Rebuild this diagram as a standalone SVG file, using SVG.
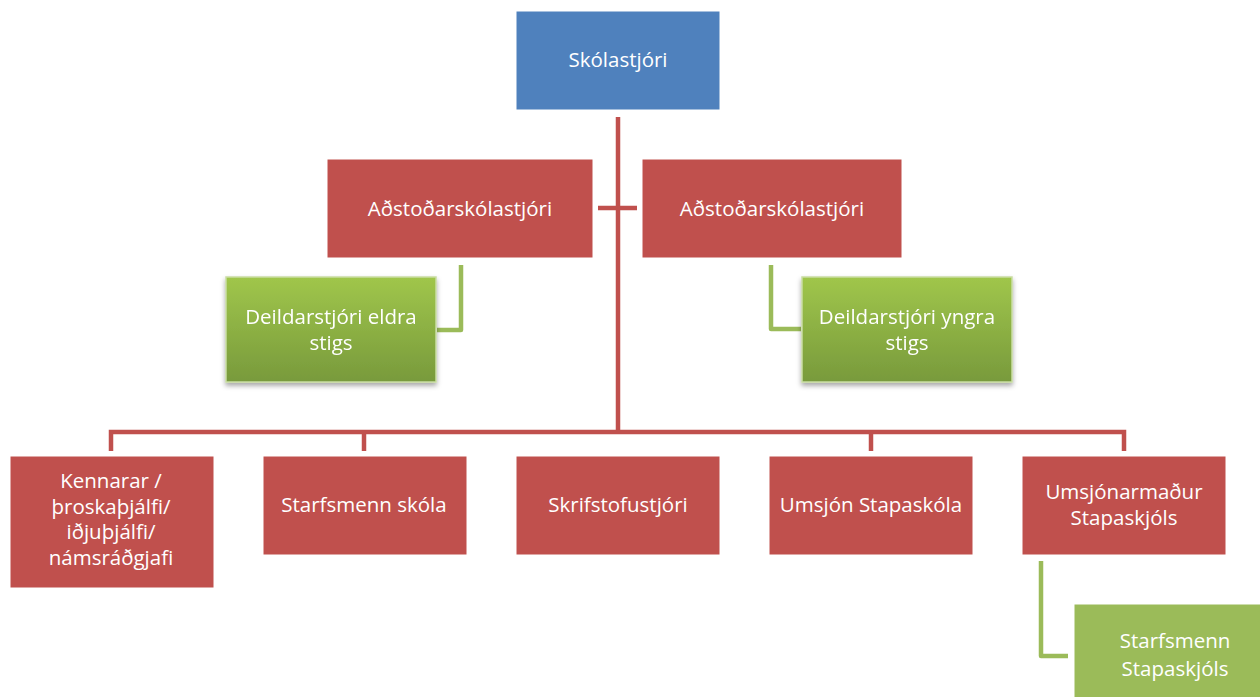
<svg xmlns="http://www.w3.org/2000/svg" width="1260" height="697" viewBox="0 0 1260 697">
<defs>
<linearGradient id="gg" x1="0" y1="0" x2="0" y2="1">
<stop offset="0" stop-color="#A0C64B"/>
<stop offset="1" stop-color="#789A3C"/>
</linearGradient>
<filter id="sh" x="-10%" y="-10%" width="130%" height="130%">
<feDropShadow dx="0" dy="3" stdDeviation="2.5" flood-color="#000" flood-opacity="0.35"/>
</filter>
<style>
.blue{fill:#4F81BD;stroke:#fff;stroke-width:1}
.red{fill:#C0504D;stroke:#fff;stroke-width:1}
.grn{fill:url(#gg);stroke:#C9DDA3;stroke-width:1.5}
.flat{fill:#9BBB59}
.t{font-family:"Open Sans","Noto Sans",sans-serif;font-size:20.5px;fill:#fff;text-anchor:middle}
.rl{stroke:#C0504D;stroke-width:4.5;fill:none}
.gl{stroke:#9BBB59;stroke-width:4.5;fill:none;stroke-linejoin:round}
</style>
</defs>
<g id="connectors">
<line class="rl" x1="618" y1="117" x2="618" y2="434"/>
<line class="rl" x1="598" y1="208" x2="637" y2="208"/>
<path class="rl" d="M111 451 V432 H1124 V451"/>
<line class="rl" x1="364" y1="432" x2="364" y2="451"/>
<line class="rl" x1="871" y1="432" x2="871" y2="451"/>
<path class="gl" d="M461 265 V330 H437"/>
<path class="gl" d="M771 265 V329 H801"/>
<path class="gl" d="M1041 561 V656 H1068"/>
</g>
<g id="n-skolastjori">
<rect class="blue" x="516" y="11" width="204" height="99"/>
<text class="t" x="618" y="67">Skólastjóri</text>
</g>
<g id="n-adst1">
<rect class="red" x="327" y="159" width="266" height="99"/>
<text class="t" x="460" y="216">Aðstoðarskólastjóri</text>
</g>
<g id="n-adst2">
<rect class="red" x="642" y="159" width="260" height="99"/>
<text class="t" x="772" y="216">Aðstoðarskólastjóri</text>
</g>
<g id="n-deild-eldra" filter="url(#sh)">
<rect class="grn" x="226" y="277" width="210" height="105"/>
<text class="t" x="331" y="324">Deildarstjóri eldra</text>
<text class="t" x="331" y="350">stigs</text>
</g>
<g id="n-deild-yngra" filter="url(#sh)">
<rect class="grn" x="802" y="277" width="210" height="105"/>
<text class="t" x="907" y="324">Deildarstjóri yngra</text>
<text class="t" x="907" y="350">stigs</text>
</g>
<g id="n-kennarar">
<rect class="red" x="10" y="456" width="204" height="132"/>
<text class="t" x="111" y="488">Kennarar /</text>
<text class="t" x="111" y="514">þroskaþjálfi/</text>
<text class="t" x="111" y="539">iðjuþjálfi/</text>
<text class="t" x="111" y="565">námsráðgjafi</text>
</g>
<g id="n-starfsmenn-skola">
<rect class="red" x="263" y="456" width="204" height="99"/>
<text class="t" x="364" y="512">Starfsmenn skóla</text>
</g>
<g id="n-skrifstofustjori">
<rect class="red" x="516" y="456" width="204" height="99"/>
<text class="t" x="618" y="512">Skrifstofustjóri</text>
</g>
<g id="n-umsjon">
<rect class="red" x="769" y="456" width="204" height="99"/>
<text class="t" x="871" y="512">Umsjón Stapaskóla</text>
</g>
<g id="n-umsjonarmadur">
<rect class="red" x="1022" y="456" width="204" height="99"/>
<text class="t" x="1124" y="499">Umsjónarmaður</text>
<text class="t" x="1124" y="525">Stapaskjóls</text>
</g>
<g id="n-starfsmenn-stapaskjols">
<rect class="flat" x="1074" y="604" width="190" height="100" stroke="#fff" stroke-width="1"/>
<text class="t" x="1175" y="648">Starfsmenn</text>
<text class="t" x="1175" y="676">Stapaskjóls</text>
</g>
</svg>
